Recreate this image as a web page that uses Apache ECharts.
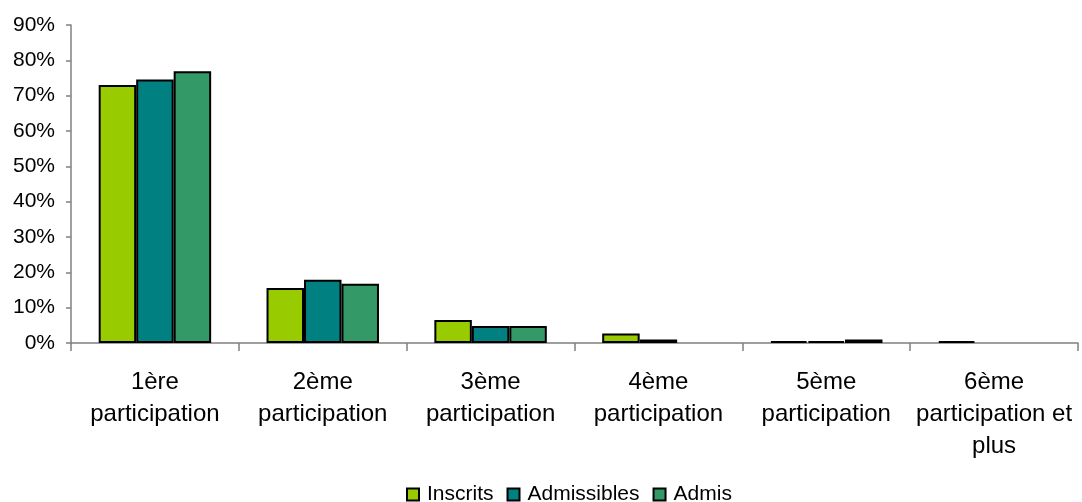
<!DOCTYPE html>
<html>
<head>
<meta charset="utf-8">
<script src="https://cdn.jsdelivr.net/npm/echarts@6/dist/echarts.min.js"></script>
<style>
html,body{margin:0;padding:0;background:#fff;}
#chart{width:1082px;height:502px;}
</style>
</head>
<body>
<div id="chart"></div>
<script>
const categories = ["1ère\nparticipation", "2ème\nparticipation", "3ème\nparticipation", "4ème\nparticipation", "5ème\nparticipation", "6ème\nparticipation et\nplus"];
const inscrits = [73, 15.6, 6.5, 2.7, 0.5, 0.5];
const admissibles = [74.6, 17.9, 4.8, 1.0, 0.5, null];
const admis = [76.9, 16.8, 4.8, null, 1.0, null];
const yTicks = [0, 10, 20, 30, 40, 50, 60, 70, 80, 90];

const chart = echarts.init(document.getElementById('chart'));
const font = 'Liberation Sans, Arial, sans-serif';
const barStyle = (c) => ({ color: c, borderColor: '#000', borderWidth: 2 });
chart.setOption({
  animation: false,
  textStyle: { fontFamily: font },
  grid: { left: 71, right: 4, top: 25, bottom: 159, containLabel: false },
  legend: {
    top: 484,
    left: 406,
    padding: 0,
    itemWidth: 12, itemHeight: 12, itemGap: 13,
    icon: 'rect',
    textStyle: { fontSize: 21, color: '#000', fontFamily: font, padding: [0, 0, 0, 3] },
    data: ['Inscrits', 'Admissibles', 'Admis']
  },
  xAxis: {
    type: 'category',
    data: categories,
    axisLine: { lineStyle: { color: '#808080', width: 1.5 } },
    axisTick: { show: true, length: 8, lineStyle: { color: '#808080', width: 1.5 } },
    axisLabel: { fontSize: 24, color: '#000', lineHeight: 32, margin: 23, fontFamily: font, interval: 0 }
  },
  yAxis: {
    type: 'value',
    min: yTicks[0], max: yTicks[yTicks.length - 1], interval: 10,
    splitLine: { show: false },
    axisLine: { show: true, lineStyle: { color: '#808080', width: 1.5 } },
    axisTick: { show: true, length: 5, lineStyle: { color: '#808080', width: 1.5 } },
    axisLabel: { fontSize: 21, color: '#000', margin: 16, fontFamily: font, formatter: v => v + '%' }
  },
  series: [
    { name: 'Inscrits', type: 'bar', data: inscrits, itemStyle: barStyle('#99CC00'), barGap: '0%', barCategoryGap: '33%' },
    { name: 'Admissibles', type: 'bar', data: admissibles, itemStyle: barStyle('#008080') },
    { name: 'Admis', type: 'bar', data: admis, itemStyle: barStyle('#339966') }
  ]
});
</script>
</body>
</html>
